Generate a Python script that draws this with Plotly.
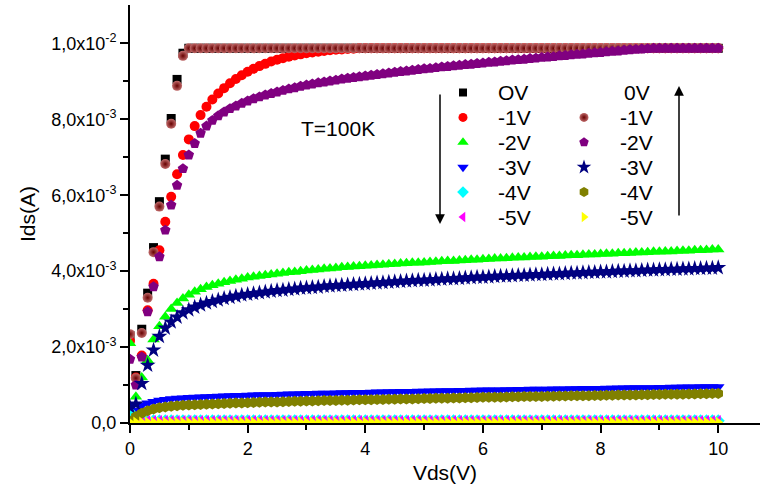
import plotly.graph_objects as go

# ---------------- data (Ids in mA, converted to A when plotted) ----------------
VDS = [0.0, 0.1, 0.2, 0.3, 0.4, 0.5, 0.6, 0.7, 0.8, 0.9,
       1.0, 1.1, 1.2, 1.3, 1.4, 1.5, 1.6, 1.7, 1.8, 1.9,
       2.0, 2.1, 2.2, 2.3, 2.4, 2.5, 2.6, 2.7, 2.8, 2.9,
       3.0, 3.1, 3.2, 3.3, 3.4, 3.5, 3.6, 3.7, 3.8, 3.9,
       4.0, 4.1, 4.2, 4.3, 4.4, 4.5, 4.6, 4.7, 4.8, 4.9,
       5.0, 5.1, 5.2, 5.3, 5.4, 5.5, 5.6, 5.7, 5.8, 5.9,
       6.0, 6.1, 6.2, 6.3, 6.4, 6.5, 6.6, 6.7, 6.8, 6.9,
       7.0, 7.1, 7.2, 7.3, 7.4, 7.5, 7.6, 7.7, 7.8, 7.9,
       8.0, 8.1, 8.2, 8.3, 8.4, 8.5, 8.6, 8.7, 8.8, 8.9,
       9.0, 9.1, 9.2, 9.3, 9.4, 9.5, 9.6, 9.7, 9.8, 9.9,
       10.0]

# sweep from 0V down to -5V
ids_down_0V = [2.30, 1.25, 2.47, 3.42, 4.62, 5.83, 6.95, 8.02, 9.05, 9.74,
               9.87, 9.87, 9.87, 9.87, 9.87, 9.87, 9.87, 9.87, 9.87, 9.87,
               9.87, 9.87, 9.87, 9.87, 9.87, 9.87, 9.87, 9.87, 9.87, 9.87,
               9.87, 9.87, 9.87, 9.87, 9.87, 9.87, 9.87, 9.87, 9.87, 9.87,
               9.87, 9.87, 9.87, 9.87, 9.87, 9.87, 9.87, 9.87, 9.87, 9.87,
               9.87, 9.87, 9.87, 9.87, 9.87, 9.87, 9.87, 9.87, 9.87, 9.87,
               9.87, 9.87, 9.87, 9.87, 9.87, 9.87, 9.87, 9.87, 9.87, 9.87,
               9.87, 9.87, 9.87, 9.87, 9.87, 9.87, 9.87, 9.87, 9.87, 9.87,
               9.87, 9.87, 9.87, 9.87, 9.87, 9.87, 9.87, 9.87, 9.87, 9.87,
               9.87, 9.87, 9.87, 9.87, 9.87, 9.87, 9.87, 9.87, 9.87, 9.87,
               9.87]
ids_down_m1V = [2.16, 1.20, 1.78, 2.97, 3.67, 4.55, 5.30, 5.96, 6.55, 7.06,
                7.47, 7.82, 8.11, 8.33, 8.52, 8.68, 8.82, 8.95, 9.06, 9.16,
                9.25, 9.33, 9.40, 9.46, 9.52, 9.57, 9.61, 9.65, 9.68, 9.71,
                9.74, 9.76, 9.78, 9.80, 9.82, 9.83, 9.84, 9.85, 9.86, 9.87,
                9.87, 9.87, 9.87, 9.87, 9.87, 9.87, 9.87, 9.87, 9.87, 9.87,
                9.87, 9.87, 9.87, 9.87, 9.87, 9.87, 9.87, 9.87, 9.87, 9.87,
                9.87, 9.87, 9.87, 9.87, 9.87, 9.87, 9.87, 9.87, 9.87, 9.87,
                9.87, 9.87, 9.87, 9.87, 9.87, 9.87, 9.87, 9.87, 9.87, 9.87,
                9.87, 9.87, 9.87, 9.87, 9.87, 9.87, 9.87, 9.87, 9.87, 9.87,
                9.87, 9.87, 9.87, 9.87, 9.87, 9.87, 9.87, 9.87, 9.87, 9.87,
                9.87]
ids_down_m2V = [2.10, 0.69, 1.20, 1.65, 2.20, 2.55, 2.80, 3.00, 3.16, 3.28,
                3.38, 3.46, 3.52, 3.58, 3.63, 3.67, 3.71, 3.74, 3.77, 3.80,
                3.83, 3.85, 3.87, 3.89, 3.91, 3.93, 3.95, 3.97, 3.98, 4.00,
                4.02, 4.03, 4.04, 4.06, 4.07, 4.08, 4.10, 4.11, 4.12, 4.13,
                4.14, 4.15, 4.16, 4.17, 4.18, 4.19, 4.20, 4.21, 4.22, 4.22,
                4.23, 4.24, 4.25, 4.26, 4.27, 4.27, 4.28, 4.29, 4.30, 4.30,
                4.31, 4.32, 4.33, 4.33, 4.34, 4.35, 4.36, 4.36, 4.37, 4.38,
                4.38, 4.39, 4.40, 4.40, 4.41, 4.42, 4.42, 4.43, 4.44, 4.44,
                4.45, 4.46, 4.46, 4.47, 4.47, 4.48, 4.49, 4.49, 4.50, 4.51,
                4.51, 4.52, 4.52, 4.53, 4.54, 4.54, 4.55, 4.55, 4.56, 4.57,
                4.57]
ids_down_m3V = [0.45, 0.32, 0.47, 0.52, 0.56, 0.59, 0.61, 0.63, 0.645, 0.655,
                0.665, 0.67, 0.68, 0.685, 0.69, 0.70, 0.705, 0.71, 0.715, 0.72,
                0.725, 0.73, 0.735, 0.74, 0.74, 0.745, 0.75, 0.755, 0.76, 0.765,
                0.77, 0.77, 0.775, 0.78, 0.78, 0.785, 0.79, 0.79, 0.795, 0.80,
                0.80, 0.805, 0.81, 0.81, 0.815, 0.815, 0.82, 0.82, 0.825, 0.83,
                0.83, 0.835, 0.835, 0.84, 0.84, 0.845, 0.85, 0.85, 0.855, 0.855,
                0.86, 0.86, 0.865, 0.865, 0.87, 0.87, 0.875, 0.875, 0.88, 0.88,
                0.885, 0.885, 0.89, 0.89, 0.89, 0.895, 0.895, 0.90, 0.90, 0.905,
                0.905, 0.91, 0.91, 0.915, 0.915, 0.92, 0.92, 0.92, 0.925, 0.925,
                0.93, 0.93, 0.935, 0.935, 0.94, 0.94, 0.94, 0.945, 0.945, 0.95,
                0.95]
ids_down_m4V = [0.28, 0.10, 0.06, 0.06, 0.06, 0.06, 0.06, 0.06, 0.06, 0.06,
                0.06, 0.06, 0.06, 0.06, 0.06, 0.06, 0.06, 0.06, 0.06, 0.06,
                0.06, 0.06, 0.06, 0.06, 0.06, 0.06, 0.06, 0.06, 0.06, 0.06,
                0.06, 0.06, 0.06, 0.06, 0.06, 0.06, 0.06, 0.06, 0.06, 0.06,
                0.06, 0.06, 0.06, 0.06, 0.06, 0.06, 0.06, 0.06, 0.06, 0.06,
                0.06, 0.06, 0.06, 0.06, 0.06, 0.06, 0.06, 0.06, 0.06, 0.06,
                0.06, 0.06, 0.06, 0.06, 0.06, 0.06, 0.06, 0.06, 0.06, 0.06,
                0.06, 0.06, 0.06, 0.06, 0.06, 0.06, 0.06, 0.06, 0.06, 0.06,
                0.06, 0.06, 0.06, 0.06, 0.06, 0.06, 0.06, 0.06, 0.06, 0.06,
                0.06, 0.06, 0.06, 0.06, 0.06, 0.06, 0.06, 0.06, 0.06, 0.06,
                0.06]
ids_down_m5V = [0.05, 0.06, 0.06, 0.06, 0.06, 0.06, 0.06, 0.06, 0.06, 0.06,
                0.06, 0.06, 0.06, 0.06, 0.06, 0.06, 0.06, 0.06, 0.06, 0.06,
                0.06, 0.06, 0.06, 0.06, 0.06, 0.06, 0.06, 0.06, 0.06, 0.06,
                0.06, 0.06, 0.06, 0.06, 0.06, 0.06, 0.06, 0.06, 0.06, 0.06,
                0.06, 0.06, 0.06, 0.06, 0.06, 0.06, 0.06, 0.06, 0.06, 0.06,
                0.06, 0.06, 0.06, 0.06, 0.06, 0.06, 0.06, 0.06, 0.06, 0.06,
                0.06, 0.06, 0.06, 0.06, 0.06, 0.06, 0.06, 0.06, 0.06, 0.06,
                0.06, 0.06, 0.06, 0.06, 0.06, 0.06, 0.06, 0.06, 0.06, 0.06,
                0.06, 0.06, 0.06, 0.06, 0.06, 0.06, 0.06, 0.06, 0.06, 0.06,
                0.06, 0.06, 0.06, 0.06, 0.06, 0.06, 0.06, 0.06, 0.06, 0.06,
                0.06]

# sweep back from -5V up to 0V (the 0V return entry has no plotted series)
ids_up_m1V = [2.34, 1.18, 2.37, 3.30, 4.50, 5.70, 6.82, 7.88, 8.88, 9.67,
              9.87, 9.87, 9.87, 9.87, 9.87, 9.87, 9.87, 9.87, 9.87, 9.87,
              9.87, 9.87, 9.87, 9.87, 9.87, 9.87, 9.87, 9.87, 9.87, 9.87,
              9.87, 9.87, 9.87, 9.87, 9.87, 9.87, 9.87, 9.87, 9.87, 9.87,
              9.87, 9.87, 9.87, 9.87, 9.87, 9.87, 9.87, 9.87, 9.87, 9.87,
              9.87, 9.87, 9.87, 9.87, 9.87, 9.87, 9.87, 9.87, 9.87, 9.87,
              9.87, 9.87, 9.87, 9.87, 9.87, 9.87, 9.87, 9.87, 9.87, 9.87,
              9.87, 9.87, 9.87, 9.87, 9.87, 9.87, 9.87, 9.87, 9.87, 9.87,
              9.87, 9.87, 9.87, 9.87, 9.87, 9.87, 9.87, 9.87, 9.87, 9.87,
              9.87, 9.87, 9.87, 9.87, 9.87, 9.87, 9.87, 9.87, 9.87, 9.87,
              9.87]
ids_up_m2V = [1.68, 1.00, 1.74, 2.93, 3.59, 4.38, 5.08, 5.74, 6.26, 6.70,
              7.06, 7.36, 7.63, 7.82, 7.97, 8.09, 8.19, 8.28, 8.35, 8.42,
              8.48, 8.54, 8.59, 8.64, 8.68, 8.72, 8.76, 8.80, 8.83, 8.87,
              8.90, 8.93, 8.96, 8.98, 9.01, 9.03, 9.06, 9.08, 9.10, 9.12,
              9.14, 9.16, 9.18, 9.20, 9.22, 9.24, 9.26, 9.27, 9.29, 9.31,
              9.33, 9.34, 9.36, 9.38, 9.39, 9.41, 9.42, 9.44, 9.45, 9.47,
              9.48, 9.50, 9.51, 9.53, 9.54, 9.56, 9.57, 9.58, 9.60, 9.61,
              9.63, 9.64, 9.65, 9.67, 9.68, 9.70, 9.71, 9.72, 9.74, 9.75,
              9.76, 9.78, 9.79, 9.80, 9.82, 9.83, 9.84, 9.85, 9.86, 9.87,
              9.87, 9.87, 9.87, 9.87, 9.87, 9.87, 9.87, 9.87, 9.87, 9.87,
              9.87]
ids_up_m3V = [0.42, 0.50, 1.04, 1.52, 1.92, 2.28, 2.50, 2.66, 2.79, 2.90,
              2.98, 3.05, 3.11, 3.16, 3.20, 3.24, 3.28, 3.31, 3.34, 3.37,
              3.39, 3.41, 3.43, 3.45, 3.47, 3.49, 3.50, 3.52, 3.53, 3.55,
              3.56, 3.57, 3.58, 3.60, 3.61, 3.62, 3.63, 3.64, 3.65, 3.66,
              3.67, 3.68, 3.69, 3.70, 3.71, 3.72, 3.73, 3.74, 3.75, 3.76,
              3.76, 3.77, 3.78, 3.79, 3.80, 3.80, 3.81, 3.82, 3.83, 3.84,
              3.84, 3.85, 3.86, 3.87, 3.87, 3.88, 3.89, 3.89, 3.90, 3.91,
              3.91, 3.92, 3.93, 3.93, 3.94, 3.95, 3.95, 3.96, 3.97, 3.97,
              3.98, 3.98, 3.99, 4.00, 4.00, 4.01, 4.01, 4.02, 4.03, 4.03,
              4.04, 4.04, 4.05, 4.05, 4.06, 4.06, 4.07, 4.07, 4.08, 4.08,
              4.09]
ids_up_m4V = [0.05, 0.17, 0.26, 0.32, 0.37, 0.40, 0.42, 0.44, 0.455, 0.465,
              0.475, 0.48, 0.49, 0.495, 0.50, 0.51, 0.515, 0.52, 0.525, 0.53,
              0.535, 0.54, 0.545, 0.55, 0.55, 0.555, 0.56, 0.565, 0.57, 0.575,
              0.58, 0.58, 0.585, 0.59, 0.59, 0.595, 0.60, 0.60, 0.605, 0.61,
              0.615, 0.615, 0.62, 0.62, 0.625, 0.625, 0.63, 0.635, 0.635, 0.64,
              0.645, 0.645, 0.65, 0.65, 0.655, 0.66, 0.66, 0.665, 0.665, 0.67,
              0.675, 0.675, 0.68, 0.68, 0.685, 0.69, 0.69, 0.695, 0.695, 0.70,
              0.70, 0.705, 0.705, 0.71, 0.71, 0.715, 0.715, 0.72, 0.72, 0.725,
              0.725, 0.73, 0.73, 0.735, 0.735, 0.74, 0.74, 0.745, 0.745, 0.75,
              0.75, 0.755, 0.755, 0.76, 0.76, 0.765, 0.765, 0.77, 0.77, 0.775,
              0.78]
ids_up_m5V = [0.02, 0.02, 0.02, 0.02, 0.02, 0.02, 0.02, 0.02, 0.02, 0.02,
              0.02, 0.02, 0.02, 0.02, 0.02, 0.02, 0.02, 0.02, 0.02, 0.02,
              0.02, 0.02, 0.02, 0.02, 0.02, 0.02, 0.02, 0.02, 0.02, 0.02,
              0.02, 0.02, 0.02, 0.02, 0.02, 0.02, 0.02, 0.02, 0.02, 0.02,
              0.02, 0.02, 0.02, 0.02, 0.02, 0.02, 0.02, 0.02, 0.02, 0.02,
              0.02, 0.02, 0.02, 0.02, 0.02, 0.02, 0.02, 0.02, 0.02, 0.02,
              0.02, 0.02, 0.02, 0.02, 0.02, 0.02, 0.02, 0.02, 0.02, 0.02,
              0.02, 0.02, 0.02, 0.02, 0.02, 0.02, 0.02, 0.02, 0.02, 0.02,
              0.02, 0.02, 0.02, 0.02, 0.02, 0.02, 0.02, 0.02, 0.02, 0.02,
              0.02, 0.02, 0.02, 0.02, 0.02, 0.02, 0.02, 0.02, 0.02, 0.02,
              0.02]

LABELS_DOWN = ["OV", "-1V", "-2V", "-3V", "-4V", "-5V"]
LABELS_UP = ["0V", "-1V", "-2V", "-3V", "-4V", "-5V"]
X_TICKS = [0, 2, 4, 6, 8, 10]
X_MINOR = [1, 3, 5, 7, 9]
Y_TICKS = [0.0, 0.002, 0.004, 0.006, 0.008, 0.010]
Y_MINOR = [0.001, 0.003, 0.005, 0.007, 0.009]
Y_TICKTEXT = ["0,0", "2,0x10<sup>-3</sup>", "4,0x10<sup>-3</sup>",
              "6,0x10<sup>-3</sup>", "8,0x10<sup>-3</sup>", "1,0x10<sup>-2</sup>"]

# ---------------- styles ----------------
FONT = "Arial, Liberation Sans, sans-serif"
BALL = dict(color="#c06a6a", gradient=dict(type="radial", color="#660000"))
STY_DOWN = [("#000000", "square", 9), ("#ff0000", "circle", 10),
            ("#00ff00", "triangle-up", 11), ("#0000ff", "triangle-down", 11),
            ("#00ffff", "diamond", 10), ("#ff00ff", "triangle-left", 10)]
STY_UP = [("ball", "circle", 10), ("#800080", "pentagon", 11),
          ("#000080", "star", 12), ("#808000", "hexagon", 11),
          ("#ffff00", "triangle-right", 10)]

down_series = [ids_down_0V, ids_down_m1V, ids_down_m2V, ids_down_m3V,
               ids_down_m4V, ids_down_m5V]
up_series = [ids_up_m1V, ids_up_m2V, ids_up_m3V, ids_up_m4V, ids_up_m5V]
UP_NAMES = LABELS_UP[1:]


def marker_for(color, symbol, size):
    if color == "ball":
        return dict(color=BALL["color"], gradient=BALL["gradient"], symbol=symbol,
                    size=size, line=dict(width=0))
    return dict(color=color, symbol=symbol, size=size, line=dict(width=0))


fig = go.Figure()
for lab, ys, (c, s, z) in zip(LABELS_DOWN, down_series, STY_DOWN):
    fig.add_trace(go.Scatter(x=VDS, y=[v * 1e-3 for v in ys], mode="markers",
                             name=lab + " (down)", marker=marker_for(c, s, z),
                             showlegend=False, cliponaxis=True))
for lab, ys, (c, s, z) in zip(UP_NAMES, up_series, STY_UP):
    fig.add_trace(go.Scatter(x=VDS, y=[v * 1e-3 for v in ys], mode="markers",
                             name=lab + " (up)", marker=marker_for(c, s, z),
                             showlegend=False, cliponaxis=True))

# ---------------- manual two-column legend (page-pixel overlay axes) ----------------
PLOT_L, PLOT_R, PLOT_T, PLOT_B = 130, 760, 5, 423
ROW_Y0, ROW_DY = 92.5, 24.9
COL1_SYM, COL1_TXT = 463, 496
COL2_SYM, COL2_TXT = 584, 618

for r, (c, s, z) in enumerate(STY_DOWN):
    fig.add_trace(go.Scatter(x=[COL1_SYM], y=[ROW_Y0 + r * ROW_DY], mode="markers",
                             xaxis="x2", yaxis="y2", showlegend=False, hoverinfo="skip",
                             marker=marker_for(c, s, z - 1)))
for r, (c, s, z) in enumerate(STY_UP, start=1):
    fig.add_trace(go.Scatter(x=[COL2_SYM], y=[ROW_Y0 + r * ROW_DY], mode="markers",
                             xaxis="x2", yaxis="y2", showlegend=False, hoverinfo="skip",
                             marker=marker_for(c, s, z - 1)))

annotations = []
for r, lab in enumerate(LABELS_DOWN):
    annotations.append(dict(x=COL1_TXT, y=ROW_Y0 + r * ROW_DY, xref="x2", yref="y2",
                            text=lab, showarrow=False, xanchor="left", yanchor="middle",
                            font=dict(family=FONT, size=21, color="black")))
for r, lab in enumerate(LABELS_UP):
    annotations.append(dict(x=COL2_TXT + (4 if r == 0 else 0), y=ROW_Y0 + r * ROW_DY,
                            xref="x2", yref="y2", text=lab, showarrow=False,
                            xanchor="left", yanchor="middle",
                            font=dict(family=FONT, size=21, color="black")))
# sweep-direction arrows
annotations.append(dict(x=440, y=224, ax=440, ay=93, xref="x2", yref="y2",
                        axref="x2", ayref="y2", text="", showarrow=True,
                        arrowhead=2, arrowsize=1.3, arrowwidth=1.5, arrowcolor="black"))
annotations.append(dict(x=679, y=86, ax=679, ay=217, xref="x2", yref="y2",
                        axref="x2", ayref="y2", text="", showarrow=True,
                        arrowhead=2, arrowsize=1.3, arrowwidth=1.5, arrowcolor="black"))
annotations.append(dict(x=338, y=128, xref="x2", yref="y2", text="T=100K",
                        showarrow=False, font=dict(family=FONT, size=21, color="black")))

fig.update_layout(
    width=766, height=490,
    margin=dict(l=PLOT_L, r=766 - PLOT_R, t=PLOT_T, b=490 - PLOT_B),
    paper_bgcolor="white", plot_bgcolor="white",
    showlegend=False,
    annotations=annotations,
    xaxis=dict(range=[0, 10.71], showline=True, linewidth=2, linecolor="black",
               ticks="outside", ticklen=8, tickwidth=2, tickcolor="black",
               tickvals=X_TICKS, ticktext=[str(v) for v in X_TICKS],
               minor=dict(tickvals=X_MINOR, ticks="outside", ticklen=5,
                          tickwidth=2, tickcolor="black"),
               showgrid=False, zeroline=False,
               tickfont=dict(family=FONT, size=18, color="black"),
               title=dict(text="Vds(V)", font=dict(family=FONT, size=21, color="black"),
                          standoff=8)),
    yaxis=dict(range=[0, 0.01101], showline=True, linewidth=2, linecolor="black",
               ticks="outside", ticklen=8, tickwidth=2, tickcolor="black",
               tickvals=Y_TICKS, ticktext=Y_TICKTEXT,
               minor=dict(tickvals=Y_MINOR, ticks="outside",
                          ticklen=5, tickwidth=2, tickcolor="black"),
               showgrid=False, zeroline=False,
               tickfont=dict(family=FONT, size=18, color="black"),
               title=dict(text="Ids(A)", font=dict(family=FONT, size=21, color="black"),
                          standoff=10)),
    xaxis2=dict(range=[PLOT_L, PLOT_R], overlaying="x", anchor="y2", visible=False,
                fixedrange=True),
    yaxis2=dict(range=[PLOT_B, PLOT_T], overlaying="y", anchor="x2", visible=False,
                fixedrange=True),
)

fig.write_html("out.html", config={"displayModeBar": False},
               post_script="document.body.style.margin='0';document.body.style.padding='0';")
